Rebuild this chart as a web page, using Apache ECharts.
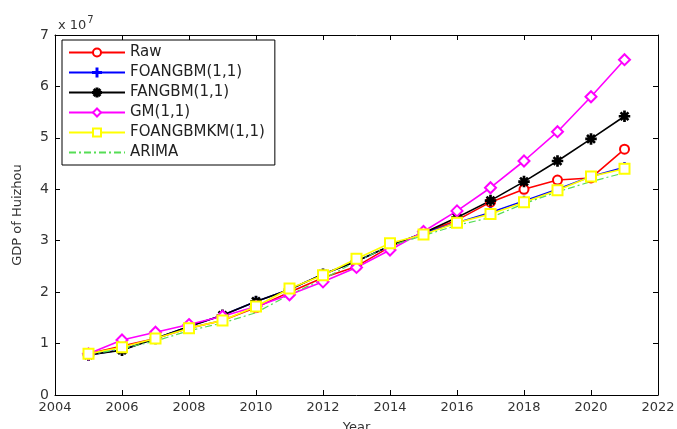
<!DOCTYPE html>
<html><head><meta charset="utf-8">
<script src="https://cdn.jsdelivr.net/npm/echarts@6/dist/echarts.min.js"></script>
<style>html,body{margin:0;padding:0;background:#fff}#c{width:677px;height:429px}</style>
</head><body><div id="c"></div>
<script>
// values in units of 10^7
const years = [2005,2006,2007,2008,2009,2010,2011,2012,2013,2014,2015,2016,2017,2018,2019,2020,2021];
const raw      = [0.80,0.95,1.10,1.30,1.45,1.70,2.00,2.28,2.50,2.88,3.15,3.40,3.75,4.00,4.18,4.22,4.78];
const foangbm  = [0.78,0.88,1.10,1.33,1.55,1.82,2.05,2.35,2.60,2.90,3.15,3.35,3.55,3.77,4.00,4.25,4.43];
const fangbm   = [0.78,0.87,1.10,1.33,1.55,1.82,2.05,2.35,2.60,2.90,3.15,3.45,3.78,4.15,4.55,4.98,5.42];
const gm       = [0.80,1.07,1.22,1.37,1.53,1.72,1.95,2.20,2.48,2.82,3.18,3.58,4.03,4.55,5.12,5.80,6.52];
const foangbmkm= [0.80,0.93,1.10,1.30,1.45,1.72,2.07,2.33,2.65,2.95,3.12,3.35,3.52,3.75,3.98,4.25,4.40];
const arima    = [0.78,0.90,1.05,1.25,1.40,1.60,1.95,2.25,2.60,2.90,3.10,3.30,3.45,3.72,3.95,4.15,4.32];
const xTicks = {min:2004, max:2022, interval:2};
const yTicks = {min:0, max:7, interval:1};

const pair = a => years.map((y,i)=>[y,a[i]]);
const plusSym = 'path://M4.4,0H5.6V4.4H10V5.6H5.6V10H4.4V5.6H0V4.4H4.4Z';
const starSym = 'path://M4.4,0H5.6V10H4.4Z M0,4.4H10V5.6H0Z M1.2,2L2,1.2L8.8,8L8,8.8Z M8,1.2L8.8,2L2,8.8L1.2,8Z';
const font = 'DejaVu Sans, Verdana, sans-serif';
const txt = '#333';
const chart = echarts.init(document.getElementById('c'), null, {renderer:'canvas'});
const axisCommon = {
  axisLine:{show:true, onZero:false, lineStyle:{color:'#000', width:1}},
  axisTick:{show:true, inside:true, length:5, lineStyle:{color:'#000'}},
  splitLine:{show:false}
};
function mk(name, data, color, symbol, size, extra){
  return Object.assign({
    name, type:'line', data:pair(data), symbol, symbolSize:size, showSymbol:true,
    lineStyle:{color, width:1.6}, itemStyle:{color, borderColor:color, borderWidth:1.5},
    animation:false, z:2
  }, extra||{});
}
chart.setOption({
  animation:false,
  backgroundColor:'#fff',
  grid:{left:55, right:19, top:35, bottom:34, containLabel:false, outerBoundsMode:'none'},
  title:{text:'{a|x 10}{b|7}', left:53, top:8, textStyle:{fontWeight:'normal', rich:{
    a:{fontFamily:font, fontSize:13, color:txt, fontWeight:'normal', padding:[6,0,0,0]},
    b:{fontFamily:font, fontSize:10, color:txt, fontWeight:'normal', padding:[0,0,4,1]}}}},
  legend:{
    orient:'vertical', left:62, top:40, itemWidth:56, itemHeight:10, itemGap:5,
    backgroundColor:'#fff', borderColor:'#000', borderWidth:1, borderRadius:0,
    padding:[5,10,5,6], textStyle:{fontFamily:font, fontSize:15, color:'#222'},
    data:['Raw','FOANGBM(1,1)','FANGBM(1,1)','GM(1,1)','FOANGBMKM(1,1)',
      {name:'ARIMA', itemStyle:{opacity:0}}]
  },
  xAxis:[
    Object.assign({type:'value', min:xTicks.min, max:xTicks.max, interval:xTicks.interval, position:'bottom',
      name:'Year', nameLocation:'middle', nameGap:26,
      nameTextStyle:{fontFamily:font, fontSize:13, color:txt},
      axisLabel:{fontFamily:font, fontSize:13, color:txt, margin:6, formatter:v=>String(v)}}, axisCommon),
    Object.assign({type:'value', min:xTicks.min, max:xTicks.max, interval:xTicks.interval, position:'top',
      axisLabel:{show:false}}, axisCommon)
  ],
  yAxis:[
    Object.assign({type:'value', min:yTicks.min, max:yTicks.max, interval:yTicks.interval, position:'left',
      name:'GDP of Huizhou', nameLocation:'middle', nameGap:31, nameRotate:90,
      nameTextStyle:{fontFamily:font, fontSize:13, color:txt},
      axisLabel:{fontFamily:font, fontSize:14, color:txt, margin:6}}, axisCommon),
    Object.assign({type:'value', min:yTicks.min, max:yTicks.max, interval:yTicks.interval, position:'right',
      axisLabel:{show:false}}, axisCommon)
  ],
  series:[
    mk('Raw', raw, '#ff0000', 'emptyCircle', 9),
    mk('FOANGBM(1,1)', foangbm, '#0000ff', plusSym, 9),
    mk('FANGBM(1,1)', fangbm, '#000000', starSym, 10),
    mk('GM(1,1)', gm, '#ff00ff', 'emptyDiamond', 11),
    mk('FOANGBMKM(1,1)', foangbmkm, '#ffff00', 'emptyRect', 10, {itemStyle:{color:'#ffff00', borderColor:'#ffff00', borderWidth:2}}),
    mk('ARIMA', arima, '#55dd55', 'none', 0, {lineStyle:{color:'#55dd55', width:1.2, type:[7,3,2,3]}})
  ]
});
</script></body></html>
